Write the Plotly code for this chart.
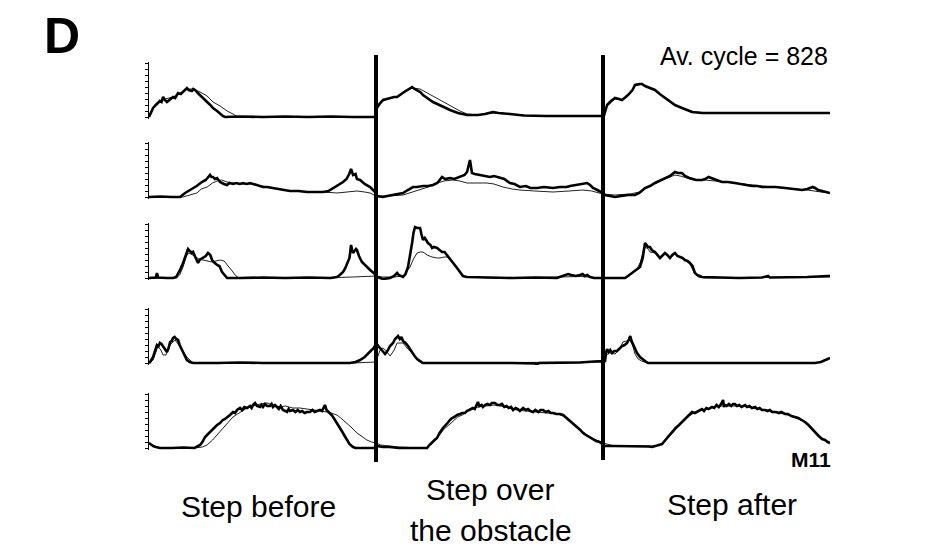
import plotly.graph_objects as go

# ---------------- data: EMG envelopes (amplitude, a.u.) vs time (% of step cycle, 3 cycles) ----------------
# Each list: (time %, amplitude).  "thick" = obstacle trials, "thin" = control.
EMG1_THICK = [(0,0),(0.8,4),(1.8,9),(3,12),(4.8,16),(5.5,15),(6.2,20),(7,17),(7.9,15),(9,17),(10.6,20),(11.5,19),
    (12.8,24),(14,23),(15.9,28),(16.7,29),(17.5,27),(18.9,26),(19.5,28),(20.3,27),(21.5,24),(22.5,22),(24,19),(25.6,15),
    (27,12),(28.2,9),(30,6),(31.3,3),(32.5,1),(33.5,0),(40,0.5),(50,0),(60,0.5),(70,0),(80,0.5),(90,0),(99.5,0),
    (100.4,9),(101.5,13),(103.1,17),(104.5,18),(106.2,19),(108,20),(109.3,20),(110.5,22),(111.9,25),(113,26),(114.5,28),
    (115.9,30),(117,28),(118.1,27),(119.5,25),(120.7,22),(122.5,19),(125.1,15),(127,13),(129.5,10),(132.6,7),(136.1,4),
    (140.1,2),(145,2),(148,3),(151.5,5),(154,4),(159,3),(165,1.5),(175,1),(185,1),(195,1),(199.5,1),
    (200.5,2),(201.8,12),(203.5,16),(205.3,19),(207,18),(208.4,17),(210,20),(211,22),(213,27),(214.1,32),(216,33),
    (217.2,33),(218.5,31),(219.8,30),(221.5,28),(222.9,27),(225,23),(227.3,19),(229.5,16),(231.7,12),(234.8,9),(236.1,8),
    (239.2,5),(243.6,4),(248,4),(260,4),(270,4.5),(280,4),(290,4),(300,4)]
EMG1_THIN = [(0,0),(1.8,10),(4.8,15),(7,18),(10.6,20),(14,24),(17.2,28),(19.4,28),(22.5,25),(25.6,21),(28.2,15),
    (31.3,11),(34.4,6),(37,3),(38.8,0.5),(40,0),(99.5,0),
    (100.4,9),(103.1,16),(106.2,19),(110,21),(113,25),(115.9,29),(119.4,28),(122.5,24),(126.9,19),(130,15),(133.5,10),
    (137,6),(140.1,3),(145,2),(151.5,4),(159,3),(170,1),(199.5,1),
    (200.5,2),(201.8,11),(205.3,18),(208.4,17),(211,21),(214.1,31),(217.2,33),(219.8,30),(222.9,27),(227.3,19),
    (231.7,12),(236.1,8),(240.5,5),(248,4),(300,4)]

EMG2_THICK = [(0,0),(5,0.5),(10,0),(13.7,0),(15.9,4),(17.5,6),(19.4,9),(21,11),(23.3,15),(25,17),(26.9,22),(27.5,20),
    (28.2,20),(29,18),(30,19),(31.3,15),(33,13),(34.4,12),(35.5,14),(37,13),(38.5,14),(40,13),(41.4,14),(43,13),(44.5,14),
    (45.8,13),(47.6,12),(49,11),(50.2,10),(52,10),(54.6,9),(57,8),(60,7),(62.1,6),(66,6),(69.6,5),(73,5),(76.7,5),(79,6),
    (81.1,9),(83,11),(85.5,15),(87,18),(88.2,23),(89,28),(89.9,22),(91,23),(91.6,18),(93,17),(95,13),(97.4,10),(99,6),(100,4),
    (100.4,1),(103.1,0),(105,1),(107.5,2),(110,3),(111.9,4),(114,7),(116.3,10),(118,10),(120.7,11),(123,11),(125.1,12),
    (127,14),(129.1,20),(130.5,18),(132.6,19),(134.5,18),(137,20),(139,22),(140.1,25),(141,33),(141.4,37),(142,28),
    (142.3,24),(143.5,23),(145.8,22),(147.5,21),(150.2,20),(152,21),(154.6,19),(156.5,18),(159,14),(161,13),(163.4,10),
    (166,11),(168,9),(171,9),(174,10),(178,9),(181,10),(184,10),(185.5,11),(188,12),(191,13),(193,14),(194.3,12),
    (195.6,9),(197.5,7),(200,4),
    (200.9,2),(203,1),(205.3,0),(208,1),(211,2),(214.1,2),(216,4),(218.5,9),(220.7,11),(222.9,14),(225,16),(227.3,19),
    (229.5,21),(231.7,25),(233,24),(234.8,24),(236.1,21),(238,19),(239.2,18),(241,17),(243.6,17),(245,18),(246.5,20),
    (248,19),(250,17),(252.4,15),(255,15),(258.1,14),(261,13),(263,12),(265.6,11),(268,11),(270,10),(272.7,10),(276,10),
    (280.2,9),(283,8),(285,8),(287.7,7),(290,8),(292.4,10),(293.4,9),(294.8,7),(296.5,6),(298,5),(300,4)]
EMG2_THIN = [(0,0),(15,0),(18,2),(21.1,4),(23,8),(25.6,10),(28,14),(30,16),(32,17),(34.4,15),(37,14),(40,13),(45,13),
    (50,11),(55,9),(62.1,6),(70,5),(76.7,5),(82.8,4),(88,5),(91.6,6),(95,5),(97.4,4),(100,1),
    (105,1),(111.9,2),(116,5),(119.4,7),(123,10),(126.9,14),(130,16),(133.9,17),(137,16),(140.1,14),(145,14),(148.9,14),
    (152,13),(155.9,10),(160,8),(163.4,7),(170,6),(178,5),(185,6),(191.2,7),(195,6),(200,3),
    (205,2),(212,3),(216,5),(220,10),(225,16),(229.5,20),(231.7,22),(234,21),(237,19),(240,17),(245,17),(250,16),
    (255,15),(262,13),(270,11),(280,9),(290,7),(296,5),(300,4)]

EMG3_THICK = [(0,0),(2,0),(3,0.5),(3.5,5),(4,0.5),(8,0),(10.6,0),(12,1),(13.7,8),(15,15),(15.9,21),(16.7,26),(17.2,29),
    (18,27),(18.9,25),(19.4,26),(20.3,21),(21.6,15),(22.3,18),(23.8,20),(25,22),(26,25),(27,23),(27.8,18),(28.5,16),
    (30,13),(31,12),(32.2,6),(33.5,3),(34.4,0),(40,0),(50,0.5),(60,0),(70,0.5),(80,0),(82.8,1),(84,3),(85.5,6),(86.5,10),
    (87.7,16),(88.3,20),(88.7,27),(89,33),(89.5,28),(89.9,25),(90.5,27),(91.2,29),(91.6,28),(92.5,22),(93.8,16),(95,13),
    (96.5,10),(97.4,8),(99,5),(100,3),
    (100.4,1),(101.8,0),(103.1,-1),(106.2,0),(108,2),(109.3,5),(110,3),(111.9,1),(113,4),(114.1,11),(115,22),(115.9,35),
    (116.5,45),(117.2,51),(118.1,50),(119.4,50),(120,44),(120.7,38),(121.5,40),(122.9,35),(124,33),(124.7,30),(125.5,31),
    (126.9,30),(128,28),(129.1,26),(130.2,26),(131.3,23),(132.6,19),(133.5,16),(135,13),(135.7,10),(137,6),(138.3,2),
    (140,1),(141.4,1),(150,0.5),(160,0),(170,0.5),(179.7,0),(182,2),(184.6,4),(186,3),(188,2),(189.9,3),(191,4),(192,2),
    (193,3),(194.3,1),(196,0),(200,0),
    (200.9,0),(205,0),(209.7,0),(211,2),(212.8,5),(214.5,8),(216.3,11),(217.5,20),(218.5,35),(219.2,33),(219.8,31),
    (220.7,31),(221.5,28),(222.9,26),(224,23),(225.1,20),(226,22),(227.3,25),(228.3,23),(229.5,20),(230.5,23),(231.7,25),
    (232.8,22),(233.9,21),(235,20),(236.1,18),(237.2,17),(238.3,15),(239.4,12),(240.5,5),(241.5,3),(243.6,1),(250,0.5),
    (260,0),(270,0.5),(272.7,2),(273.5,0.5),(280,0.5),(290,1),(299,2),(300,2)]
EMG3_THIN = [(0,0),(12,0),(13.5,3),(15,11),(16.2,20),(17.2,25),(18.5,24),(20.3,21),(22,19),(23.8,18),(25.5,17),
    (27.8,16),(29.5,17),(31.3,18),(33,17),(33.5,16),(34.5,13),(35.7,10),(37,6),(37.9,3),(39,1),(40.1,0),(60,0),
    (82.8,0.5),(90,1),(95,1.5),(100,2),
    (103,1),(108,1),(112,2),(115,11),(116.5,19),(118.1,25),(119.5,26),(120.7,26),(122.5,23),(124.7,21),(127,20),
    (128.2,20),(130,21),(131.3,21),(132.6,19),(133.5,16),(135,12),(135.7,10),(137,6),(138.3,2),(140,1),(150,0),
    (180,1),(190,1.5),(200,0),
    (209.7,0),(211,2),(213,5),(215,9),(216.5,16),(217.8,28),(218.5,31),(220,29),(220.7,26),(222.9,25),(225.1,20),
    (227.3,24),(229.5,20),(231.7,24),(233.9,21),(236.1,18),(238.3,14),(239.5,9),(240.5,4),(242,1),(245,0),(300,1)]

EMG4_THICK = [(0,0),(0.5,1),(1.8,6),(2.5,12),(3.5,18),(4.2,17),(4.8,20),(5.5,19),(6.2,16),(7,14),(7.9,11),(8.5,14),
    (9.3,21),(10,22),(10.6,25),(11.3,26),(12,24),(12.8,23),(13.5,18),(14.5,13),(15.5,9),(16.7,3),(18,1),(19.4,0),(30,0),
    (40,0.5),(50,0),(60,0),(70,0.5),(80,0),(88.5,0),(91,1),(93,3),(95,6),(97.4,11),(99,15),(100,19),
    (100.4,19),(101,17),(101.8,15),(102.5,13),(103,12),(104,9),(105,12),(106.2,17),(107.5,20),(108.4,24),(109.3,26),
    (109.7,27),(110.5,24),(111.2,26),(111.9,22),(113,20),(114.1,17),(115.9,10),(117,7),(118.1,4),(120.7,0),(130,0),
    (140,0),(150,0.5),(160,0),(170,-0.5),(171,-1),(172,0),(180,0),(190,0.5),(196,1.5),(198,2),(200,2),
    (200.9,2),(201.3,10),(201.8,14),(202.5,11),(203.2,13),(204,10),(205,12),(206.2,12),(207,14),(208.4,17),(209.5,18),
    (210.6,20),(211.5,24),(212,27),(212.6,22),(213.2,19),(214,15),(215,10),(216.3,6),(217.2,4),(218.5,2),(219.8,0),
    (230,0),(240,0),(260,0),(280,0),(293.4,0),(296,1),(298,3),(300,5)]
EMG4_THIN = [(0,0),(1.8,3),(3.8,16),(5,14),(6.2,8),(7.5,8),(9.3,18),(11.5,23),(13.7,16),(15,12),(16.7,6),(18.5,2),
    (19.4,0),(90,0),(95,0.5),(97,1),(100,1),
    (101,8),(102,14),(103.1,15),(104.5,12),(106.2,7),(108,13),(109.3,20),(111.9,20),(114,14),(115,12),(117,7),
    (118.1,3),(120,0),(200,1),
    (201.5,8),(203,10),(205.3,9),(207,13),(208.8,21),(210,22),(211.9,23),(213,18),(214.1,9),(215.5,4),(217,2),
    (219.8,0),(293.4,0),(296,1),(298,3),(300,5)]

EMG5_THICK = [(0,5),(0.5,4),(1.8,2),(3,1),(4.8,0),(10,0),(15,0.5),(20,0),(21.1,1),(22.5,3),(23.5,6),(24.7,11),(26,14),
    (27.8,18),(29,21),(30,23),(31.3,25),(32.5,28),(33.5,29),(34.8,31),(35.7,33),(37,36),(37.9,35),(38.8,38),(40.1,40),
    (41,38),(42,41),(43.2,40),(44.5,42),(45.2,40),(45.8,43),(46.7,45),(47.6,42),(48.9,41),(49.5,43),(50.2,41),(51.1,44),
    (52,42),(53.3,42),(54,44),(54.6,41),(55.5,43),(56.4,41),(57.2,39),(58,42),(59,38),(60.1,37),(60.8,36),(61.5,39),
    (62.1,37),(63.4,38),(64.5,36),(65.5,38),(66.5,36),(67.5,37),(68.5,35),(69.6,36),(70.9,36),(72,38),(73,36),(74,37),
    (75.3,38),(76.2,37),(77,40),(77.5,43),(78.2,38),(78.9,36),(80,34),(81.1,31),(82,28),(83,24),(84.1,20),(85.2,16),
    (86.2,12),(87.2,8),(88.3,4),(89.9,1),(91,0),(100,0),
    (100.4,2),(103,1),(106,1),(110,0),(115,0),(120,0),(122.5,0),(123.5,3),(124.7,6),(125.8,8),(126.9,10),(128,15),
    (129.5,20),(130.5,23),(131.5,25),(132.6,28),(133.5,30),(134.5,31),(135.7,33),(137,34),(138,35),(139.2,35),(140,37),
    (141,38),(142.7,40),(143.5,39),(144.3,44),(144.9,46),(145.5,42),(146.5,43),(147.1,41),(148,43),(149,44),(150.2,43),
    (151,45),(152.4,45),(153.5,43),(154.6,43),(155.5,44),(156.5,41),(157.5,42),(158.5,40),(159.5,41),(160.4,38),
    (161.5,40),(162.5,39),(163.4,37),(164.8,40),(166,38),(167,39),(168,37),(169.2,36),(170.2,38),(171.5,36),(172.5,38),
    (173.6,38),(174.8,36),(176,37),(177,35),(178,35),(179.5,34),(181,34),(182.4,33),(183.5,31),(185,28),(186.8,25),
    (188.5,21),(190,18),(191.2,15),(192.5,13),(194,11),(195.6,9),(197,7),(198.5,6),(200,4),
    (200.9,2),(205,2),(210,2),(215,2),(220,1.5),(221.6,1),(223,2),(224.5,3),(226,4),(227.5,8),(229,12),(230.4,16),
    (232,20),(233.5,23),(234.8,26),(236,29),(237.5,32),(238.5,34),(239.2,36),(240.5,35),(241.8,37),(243,38),(243.6,39),
    (244.5,37),(245.5,40),(246.5,39),(248,41),(249,40),(250,43),(251,41),(252,44),(252.9,48),(253.3,41),(253.7,43),
    (254.5,42),(255.5,44),(256.5,42),(257.3,44),(258.1,44),(259,42),(260,43),(261,41),(262.6,43),(263.5,41),(264.5,42),
    (265.6,40),(267,41),(268,39),(269,40),(270,38),(271.4,38),(272.5,37),(273.5,38),(274.5,36),(276.2,36),(277.5,35),
    (278.5,36),(280.2,34),(281.5,34),(283,32),(284.6,31),(286,30),(287.5,28),(289,26),(290.5,23),(292,19),(293.4,16),
    (295,12),(296.5,9),(297.8,8),(299,6),(300,5)]
EMG5_THIN = [(0,5),(2,2),(5,0),(20,0),(23.5,1),(25.6,3),(28,8),(30,13),(32,19),(34.4,25),(37,31),(39,34),(41.4,37),
    (43.2,40),(46,42),(48.9,44),(52,45),(55,43),(57.7,41),(60,42),(63.4,40),(66.5,40),(69.6,39),(73,38),(76.7,37),
    (78.4,36),(80,35),(82.8,33),(84.5,30),(86,27),(87.2,25),(89,21),(91.6,15),(94,11),(96,8),(98,6),(100,5),
    (102,3),(105,2),(110,1),(120,0),(122.5,0),(124,3),(126,7),(128,13),(130,19),(132.6,24),(134,27),(136,31),(138,33),
    (140,36),(142,39),(145,41),(148,42),(152,43),(155,42),(158,40),(162,38),(166,37),(170,36),(175,35),(180,34),
    (182.4,32),(185.5,28),(188,22),(190.5,17),(193,13),(196,9),(198,7),(200,5),
    (205,2),(210,2),(220,1.5),(223,2),(226,4),(228,9),(230,14),(232,19),(234,23),(236,28),(238,32),(240,35),(243,38),
    (246,39),(249,41),(252,42),(256,42),(260,42),(264,41),(268,39),(272,38),(276,36),(280,34),(284,31),(288,27),
    (291,22),(294,15),(297,9),(300,5)]

ROWS_THICK = [EMG1_THICK, EMG2_THICK, EMG3_THICK, EMG4_THICK, EMG5_THICK]
ROWS_THIN = [EMG1_THIN, EMG2_THIN, EMG3_THIN, EMG4_THIN, EMG5_THIN]
CYCLE_BOUNDARIES = [100, 200]
STEP_LABELS = ["Step before", "Step over", "the obstacle", "Step after"]
AV_CYCLE_MS = 828
MUSCLE_ID = "M11"
PANEL = "D"

# ---------------- layout constants (screen pixels; the page body adds an 8 px offset) ----------------
W, H = 936, 560
OFF = 8
AREA_L, AREA_R, AREA_T, AREA_B = 149, 830, 40, 470   # plotting area on screen
AREA_W = AREA_R - AREA_L
AREA_H = AREA_B - AREA_T
PL, PT = AREA_L - OFF, AREA_T - OFF
PR, PB = W - PL - AREA_W, H - PT - AREA_H
ROW_BASE_PX = [117, 197, 278, 363, 448]
Y_RANGE = [-2, 55]


def py(p):  # screen pixel y -> paper y
    return (AREA_B - p) / AREA_H


def px(p):  # screen pixel x -> paper x
    return (p - AREA_L) / AREA_W


fig = go.Figure()
layout = dict(
    width=W, height=H, margin=dict(l=PL, r=PR, t=PT, b=PB),
    paper_bgcolor="white", plot_bgcolor="white", showlegend=False,
    xaxis=dict(range=[0, 300], visible=False, domain=[0, 1], anchor="y5", fixedrange=True),
)
for i, base in enumerate(ROW_BASE_PX):
    name = "yaxis" if i == 0 else f"yaxis{i+1}"
    layout[name] = dict(
        domain=[py(base - Y_RANGE[0]), py(base - Y_RANGE[1])],
        range=Y_RANGE, anchor="x", showline=True, linecolor="black", linewidth=1,
        ticks="outside", ticklen=3, tickwidth=1, tickcolor="black", dtick=6, tick0=0,
        showticklabels=False, showgrid=False, zeroline=False, fixedrange=True,
    )
    yref = "y" if i == 0 else f"y{i+1}"
    tx, ta = zip(*ROWS_THIN[i])
    fig.add_trace(go.Scatter(x=tx, y=ta, xaxis="x", yaxis=yref, mode="lines",
                             line=dict(color="#222222", width=1), hoverinfo="skip"))
    kx, ka = zip(*ROWS_THICK[i])
    fig.add_trace(go.Scatter(x=kx, y=ka, xaxis="x", yaxis=yref, mode="lines",
                             line=dict(color="black", width=2.6), hoverinfo="skip"))

fig.update_layout(**layout)

for xb, ybot in zip(CYCLE_BOUNDARIES, [462, 460]):
    fig.add_shape(type="line", xref="x", yref="paper", x0=xb, x1=xb, y0=py(ybot), y1=py(55),
                  line=dict(color="black", width=4))

FONT = "Liberation Sans, Arial, sans-serif"
ann = [
    dict(text=f"<b>{PANEL}</b>", x=px(62), y=py(36), size=50, xanchor="center"),
    dict(text=f"Av. cycle = {AV_CYCLE_MS}", x=px(830), y=py(56), size=25, xanchor="right"),
    dict(text=f"<b>{MUSCLE_ID}</b>", x=px(833), y=py(459), size=21, xanchor="right"),
    dict(text=STEP_LABELS[0], x=px(258), y=py(506), size=30, xanchor="center"),
    dict(text=STEP_LABELS[1], x=px(490), y=py(489), size=30, xanchor="center"),
    dict(text=STEP_LABELS[2], x=px(491), y=py(530), size=30, xanchor="center"),
    dict(text=STEP_LABELS[3], x=px(732), y=py(504), size=30, xanchor="center"),
]
for a in ann:
    fig.add_annotation(xref="paper", yref="paper", showarrow=False, yanchor="middle",
                       text=a["text"], x=a["x"], y=a["y"], xanchor=a["xanchor"],
                       font=dict(family=FONT, size=a["size"], color="black"))

fig.write_html("out.html")
